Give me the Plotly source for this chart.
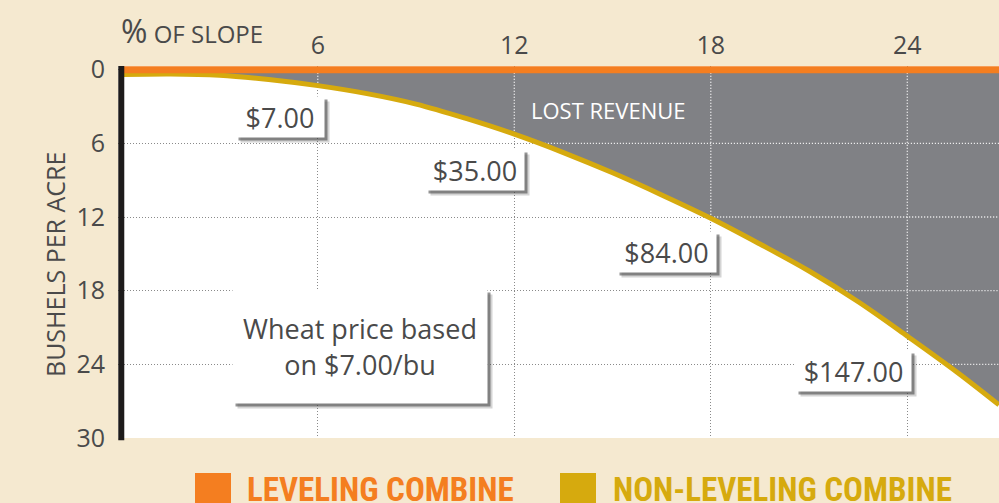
import numpy as np
import plotly.graph_objects as go

# ---------------- data ----------------
slope_pct = [0, 1.5, 3, 4.5, 6, 7.5, 9, 10.5, 12, 13.5, 15, 16.5, 18, 19.5, 21, 22.5, 24, 25.5, 26.8]
non_leveling_loss = [0.4, 0.35, 0.45, 0.8, 1.3, 1.95, 2.8, 3.95, 5.25, 6.75, 8.4, 10.2, 12.1,
                     14.2, 16.4, 18.9, 21.7, 24.6, 27.3]
leveling_x = [0, 26.8]
leveling_loss = [0, 0]

x_ticks = [6, 12, 18, 24]
y_ticks = [0, 6, 12, 18, 24, 30]

revenue_labels = ["$7.00", "$35.00", "$84.00", "$147.00"]
label_x = [6.22, 12.32, 18.18, 24.13]
label_y = [3.85, 8.18, 14.89, 24.54]
label_w = [88, 98, 99, 115]

note_text = "Wheat price based<br>on $7.00/bu"
note_x, note_y = 7.29, 22.55
lost_x, lost_y = 14.85, 3.28

legend_names = ["LEVELING COMBINE", "NON-LEVELING COMBINE"]

# ---------------- style ----------------
W, H = 999, 503
ML, MR, MT, MB = 118, 0, 66, 65
PW, PH = W - ML - MR, H - MT - MB
XR = [-0.1, 26.8]
YR = [30, -0.3]
FONT = "Open Sans, Noto Sans, sans-serif"
TXT = "#4a4a4a"
ORANGE = "#F47E20"
GOLD = "#D6AA0E"
GRAY = "#808185"
BG = "#F5E9D0"
DOT = "1px,2px"
SHADOWS = [(5, "rgba(60,60,60,0.22)"), (3, "rgba(60,60,60,0.55)")]


def px_x(px):
    return (px - ML) / PW


def px_y(py):
    return (H - MB - py) / PH


fig = go.Figure()

# lost revenue area (between leveling line at 0 and non-leveling curve)
fig.add_trace(go.Scatter(x=slope_pct, y=non_leveling_loss, mode="lines",
                         line=dict(width=0, shape="spline", color=GRAY),
                         fill="tozeroy", fillcolor=GRAY, hoverinfo="skip",
                         showlegend=False))

# white dotted grid over the grey region
gx, gy = [], []
for xv in x_ticks:
    yc = float(np.interp(xv, slope_pct, non_leveling_loss))
    gx += [xv, xv, None]
    gy += [0, yc, None]
for yv in y_ticks[1:]:
    if yv < max(non_leveling_loss):
        xc = float(np.interp(yv, non_leveling_loss, slope_pct))
        gx += [xc, XR[1], None]
        gy += [yv, yv, None]
fig.add_trace(go.Scatter(x=gx, y=gy, mode="lines",
                         line=dict(color="white", width=1.3, dash=DOT),
                         hoverinfo="skip", showlegend=False))

# non-leveling curve
fig.add_trace(go.Scatter(x=slope_pct, y=non_leveling_loss, mode="lines",
                         line=dict(width=5, shape="spline", color=GOLD),
                         name=legend_names[1], showlegend=False))
# leveling line
fig.add_trace(go.Scatter(x=leveling_x, y=leveling_loss, mode="lines",
                         line=dict(width=7, color=ORANGE),
                         name=legend_names[0], showlegend=False))

# black y axis line
x0p = (0 - XR[0]) / (XR[1] - XR[0])
fig.add_shape(type="line", xref="paper", yref="paper", x0=x0p, x1=x0p,
              y0=-0.006, y1=1.0, line=dict(color="#1d1b1b", width=6), layer="above")

ann = []
# revenue labels with shadows
for t, lx, ly, w in zip(revenue_labels, label_x, label_y, label_w):
    for dx, col in SHADOWS:
        ann.append(dict(x=lx, y=ly, xref="x", yref="y", text="&nbsp;", showarrow=False,
                        xanchor="right", yanchor="middle", xshift=dx, yshift=-dx,
                        width=w, height=40, font=dict(family=FONT, size=27),
                        bgcolor=col, borderpad=0))
    ann.append(dict(x=lx, y=ly, xref="x", yref="y", text=t, showarrow=False,
                    xanchor="right", yanchor="middle", width=w, height=40, align="center",
                    font=dict(family=FONT, size=27, color=TXT),
                    bgcolor="white", borderpad=0))

# note box
for dx, col in SHADOWS:
    ann.append(dict(x=note_x, y=note_y, xref="x", yref="y", text="&nbsp;", showarrow=False,
                    xanchor="center", yanchor="middle", xshift=dx, yshift=-dx,
                    width=254, height=113, font=dict(family=FONT, size=27),
                    bgcolor=col, borderpad=0))
ann.append(dict(x=note_x, y=note_y, xref="x", yref="y", text=note_text, showarrow=False,
                xanchor="center", yanchor="middle", width=254, height=113, align="center",
                font=dict(family=FONT, size=27, color=TXT), bgcolor="white", borderpad=0))

# lost revenue
ann.append(dict(x=lost_x, y=lost_y, xref="x", yref="y", text="LOST REVENUE", showarrow=False,
                font=dict(family=FONT, size=22, color="white")))

# axis titles
ann.append(dict(x=px_x(119), y=px_y(30), xref="paper", yref="paper", xanchor="left",
                yanchor="middle", showarrow=False,
                text="<span style='font-size:32px'>%</span> OF SLOPE",
                font=dict(family=FONT, size=24, color=TXT)))
ann.append(dict(x=px_x(36), y=px_y(265), xref="paper", yref="paper", textangle=-90,
                showarrow=False, text="BUSHELS PER ACRE",
                font=dict(family=FONT, size=25, color=TXT)))

# legend
leg_cols = [ORANGE, GOLD]
sq_x = [195, 560]
txt_x = [245, 611]
for name, c, sx, tx in zip(legend_names, leg_cols, sq_x, txt_x):
    fig.add_shape(type="rect", xref="paper", yref="paper",
                  x0=px_x(sx), x1=px_x(sx + 36), y0=px_y(473), y1=px_y(510),
                  fillcolor=c, line=dict(width=0), layer="above")
    ann.append(dict(x=px_x(tx), y=px_y(490), xref="paper", yref="paper", xanchor="left",
                    yanchor="middle", showarrow=False, text="<b>" + name + "</b>",
                    font=dict(family="Liberation Sans Narrow, Roboto Condensed, Open Sans, sans-serif",
                              size=33, color=c)))

fig.update_layout(
    width=W, height=H, margin=dict(l=ML, r=MR, t=MT, b=MB),
    paper_bgcolor=BG, plot_bgcolor="white", showlegend=False,
    annotations=ann,
    xaxis=dict(range=XR, side="top", tickvals=x_ticks, showgrid=True,
               gridcolor="#8a8a8a", gridwidth=1, griddash=DOT, zeroline=False,
               showline=False, ticks="", ticklabelstandoff=6,
               tickfont=dict(family=FONT, size=25, color=TXT), fixedrange=True),
    yaxis=dict(range=YR, tickvals=y_ticks, showgrid=True, gridcolor="#8a8a8a",
               gridwidth=1, griddash=DOT, zeroline=False, showline=False, ticks="",
               ticklabelstandoff=12, tickfont=dict(family=FONT, size=25, color=TXT),
               fixedrange=True),
)

fig.write_html("out.html", config={"displayModeBar": False},
               post_script="document.body.style.margin='0px';document.body.style.overflow='hidden';")
